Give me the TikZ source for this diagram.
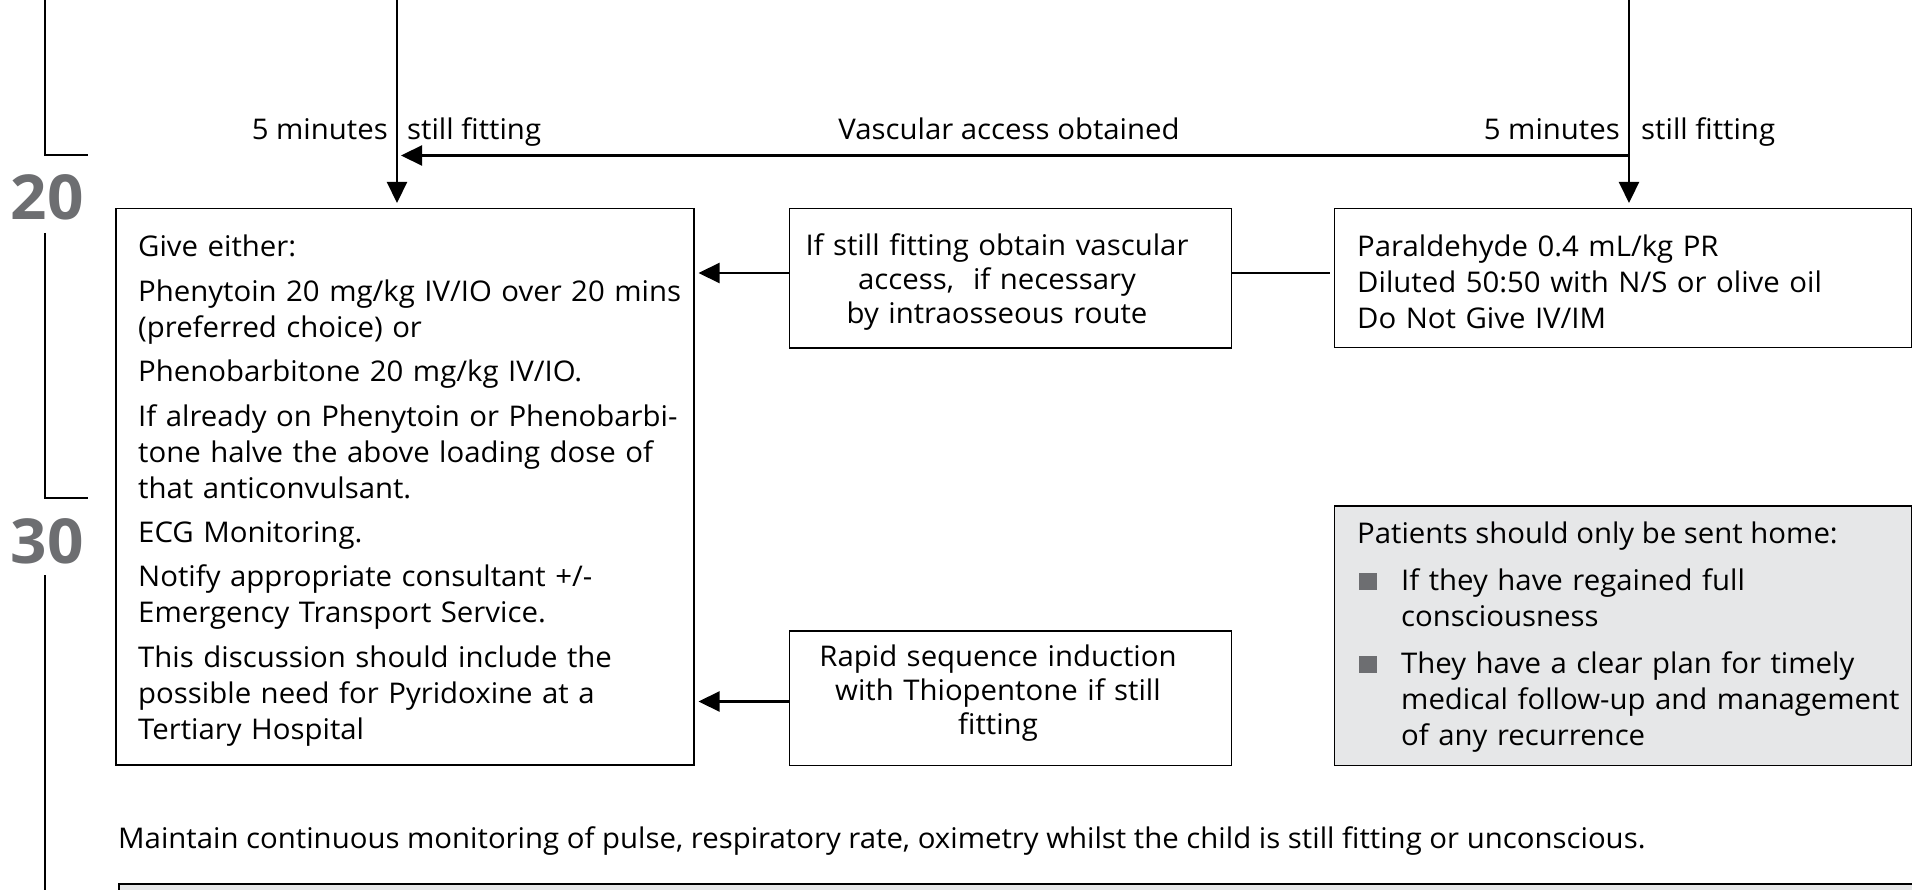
\documentclass[tikz,border=0pt]{standalone}
\usepackage{fontspec}
\setmainfont[FakeStretch=1.03]{Open Sans}
\usetikzlibrary{arrows.meta,calc}
\definecolor{boxgray}{RGB}{230,231,232}
\definecolor{numgray}{RGB}{109,110,113}
\newcommand{\fs}{\fontsize{28.5}{36}\selectfont}
\newcommand{\fsb}{\fontsize{28.5}{34}\selectfont}
\begin{document}
\begin{tikzpicture}[x=1pt,y=-1pt,
  box/.style={draw, line width=1.5pt, inner sep=0pt, anchor=north west},
  conn/.style={line width=2.2pt},
  arr/.style={conn, -{Triangle[length=21pt,width=20pt]}},
  txt/.style={inner sep=0pt, font=\fs, text width=#1},
  lbl/.style={inner sep=0pt, font=\fs},
  num/.style={inner sep=0pt, font=\fontsize{62}{70}\selectfont\bfseries, text=numgray, anchor=base},
  bul/.style={fill=numgray, inner sep=0pt, minimum width=18.5pt, minimum height=17pt, anchor=south west}
]
\useasboundingbox (0,0) rectangle (1912,890);
\clip (0,0) rectangle (1912,890);

% timeline
\node[num] (n20) at (47,220) {20};
\node[num] (n30) at (47,563) {30};
\draw[line width=2pt] (45,0) -- (45,155) -- (88,155);
\draw[line width=2pt] (45,233) -- (45,498) -- (88,498);
\draw[line width=2pt] (45,575) -- (45,895);

% boxes
\node[box, minimum width=578pt, minimum height=556pt] (A) at (115,208) {};
\node[box, minimum width=442pt, minimum height=139.5pt] (B) at (788.5,208) {};
\node[box, minimum width=577pt, minimum height=139pt] (C) at (1333.5,208) {};
\node[box, fill=boxgray, minimum width=577pt, minimum height=259.5pt] (D) at (1333.5,505) {};
\node[box, minimum width=442pt, minimum height=134.5pt] (E) at (788.5,630) {};
\node[box, fill=boxgray, minimum width=1820pt, minimum height=40pt] (F) at (118,883) {};

% connectors
\coordinate (inL) at (397,-2);
\coordinate (inR) at (1629,-2);
\coordinate (hL) at (397,155.5);
\coordinate (hR) at (1629,155.5);
\coordinate (y1) at (0,273);
\coordinate (y2) at (0,701.5);
\draw[arr, shorten >=5pt] (inL) -- (inL |- A.north);
\draw[arr, shorten >=5pt] (inR) -- (inR |- C.north);
\draw[arr, shorten >=4pt] (hR) -- (hL);
\draw[arr, shorten >=4pt] (B.west |- y1) -- (A.east |- y1);
\draw[conn, shorten >=4pt] (B.east |- y1) -- (C.west |- y1);
\draw[arr, shorten >=4pt] (E.west |- y2) -- (A.east |- y2);

% top labels
\node[lbl, anchor=base east] (l5a) at (388,140) {5 minutes};
\node[lbl, anchor=base west] (lsa) at (407,140) {still fitting};
\node[lbl, anchor=base] (lva) at (1009,140) {Vascular access obtained};
\node[lbl, anchor=base east] (l5b) at (1620,140) {5 minutes};
\node[lbl, anchor=base west] (lsb) at (1641,140) {still fitting};

% box texts
\node[txt=560pt, align=left, anchor=base west] (At) at (138,257) {Give either:\\[8.4pt]
Phenytoin 20 mg/kg IV/IO over 20 mins\\
(preferred choice) or\\[8.4pt]
Phenobarbitone 20 mg/kg IV/IO.\\[8.4pt]
If already on Phenytoin or Phenobarbi-\\
tone halve the above loading dose of\\
that anticonvulsant.\\[8.4pt]
ECG Monitoring.\\[8.4pt]
Notify appropriate consultant +/-\\
Emergency Transport Service.\\[8.4pt]
This discussion should include the\\
possible need for Pyridoxine at a\\
Tertiary Hospital};

\node[txt=440pt, align=center, anchor=base, font=\fsb] (Bt) at (997,256) {If still fitting obtain vascular\\
access,\ \ if necessary\\
by intraosseous route};

\node[txt=560pt, align=left, anchor=base west] (Ct) at (1357,256.7) {Paraldehyde 0.4 mL/kg PR\\
Diluted 50:50 with N/S or olive oil\\
Do Not Give IV/IM};

\node[lbl, anchor=base west] (Dt) at (1357,543.3) {Patients should only be sent home:};
\node[bul] (b1) at (1358.5,590) {};
\node[txt=510pt, align=left, anchor=base west] (D1) at (1401,590) {If they have regained full\\
consciousness};
\node[bul] (b2) at (1358.5,673.3) {};
\node[txt=510pt, align=left, anchor=base west] (D2) at (1401,673.3) {They have a clear plan for timely\\
medical follow-up and management\\
of any recurrence};

\node[txt=440pt, align=center, anchor=base, font=\fsb] (Et) at (998,666.7) {Rapid sequence induction\\
with Thiopentone if still\\
fitting};

\node[lbl, anchor=base west] (M) at (118,848) {Maintain continuous monitoring of pulse, respiratory rate, oximetry whilst the child is still fitting or unconscious.};
\end{tikzpicture}
\end{document}
